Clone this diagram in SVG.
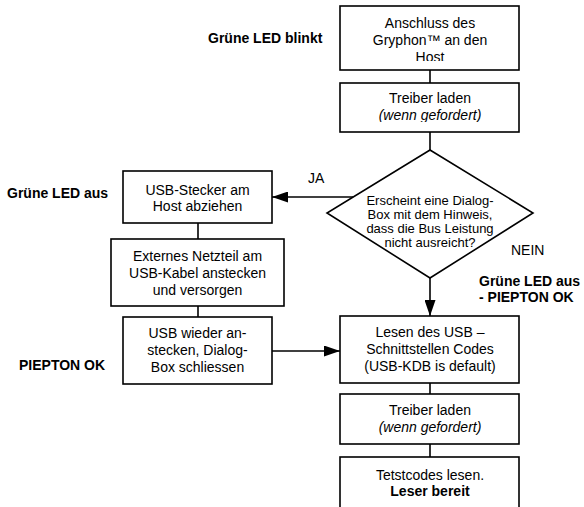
<svg xmlns="http://www.w3.org/2000/svg" width="584" height="507" viewBox="0 0 584 507">
<style>
.box{fill:#fff;stroke:#000;stroke-width:1.6}
.ln{fill:none;stroke:#000;stroke-width:1.6}
text{font-family:"Liberation Sans",Arial,sans-serif;font-size:14px;fill:#000}
.c{text-anchor:middle}
.b{font-weight:bold}
.i{font-style:italic}
.d{font-size:13px}
</style>
<defs>
<marker id="ah" markerUnits="userSpaceOnUse" markerWidth="16" markerHeight="11" refX="16" refY="5.5" orient="auto">
<path d="M0,0 L16,5.5 L0,11 z" fill="#000"/>
</marker>
<clipPath id="clip1"><rect x="340" y="6" width="179" height="55"/></clipPath>
<clipPath id="clip2"><rect x="340" y="83" width="179" height="39"/></clipPath>
</defs>
<g id="connectors">
<line class="ln" x1="430" y1="70" x2="430" y2="83"/>
<line class="ln" x1="430" y1="132" x2="430" y2="150"/>
<line class="ln" x1="430" y1="278" x2="430" y2="316" marker-end="url(#ah)"/>
<line class="ln" x1="353" y1="197" x2="272" y2="197" marker-end="url(#ah)"/>
<line class="ln" x1="198" y1="223" x2="198" y2="239"/>
<line class="ln" x1="198" y1="306" x2="198" y2="317"/>
<line class="ln" x1="272" y1="351" x2="340" y2="351" marker-end="url(#ah)"/>
<line class="ln" x1="430" y1="383" x2="430" y2="394"/>
<line class="ln" x1="430" y1="444" x2="430" y2="457"/>
</g>
<g id="n1">
<rect class="box" x="340" y="6" width="179" height="64"/>
<g clip-path="url(#clip1)">
<text class="c" x="430" y="28">Anschluss des</text>
<text class="c" x="430" y="45">Gryphon™ an den</text>
<text class="c" x="430" y="62">Host</text>
</g>
</g>
<g id="n2">
<rect class="box" x="340" y="83" width="179" height="49"/>
<g clip-path="url(#clip2)">
<text class="c" x="430" y="103">Treiber laden</text>
<text class="c i" x="430" y="120">(wenn gefordert)</text>
</g>
</g>
<g id="n3">
<polygon class="box" points="430,150 533,213 430,278 327,213"/>
<text class="c d" x="430" y="205">Erscheint eine Dialog-</text>
<text class="c d" x="430" y="219">Box mit dem Hinweis,</text>
<text class="c d" x="430" y="233">dass die Bus Leistung</text>
<text class="c d" x="430" y="247">nicht ausreicht?</text>
</g>
<g id="n4">
<rect class="box" x="123" y="171" width="149" height="52"/>
<text class="c" x="197.5" y="195">USB-Stecker am</text>
<text class="c" x="197.5" y="211">Host abziehen</text>
</g>
<g id="n5">
<rect class="box" x="111" y="239" width="173" height="67"/>
<text class="c" x="197.5" y="261">Externes Netzteil am</text>
<text class="c" x="197.5" y="278">USB-Kabel anstecken</text>
<text class="c" x="197.5" y="295">und versorgen</text>
</g>
<g id="n6">
<rect class="box" x="123" y="317" width="149" height="67"/>
<text class="c" x="197.5" y="338">USB wieder an-</text>
<text class="c" x="197.5" y="355">stecken, Dialog-</text>
<text class="c" x="197.5" y="372">Box schliessen</text>
</g>
<g id="n7">
<rect class="box" x="340" y="316" width="179" height="67"/>
<text class="c" x="430" y="337">Lesen des USB –</text>
<text class="c" x="430" y="354">Schnittstellen Codes</text>
<text class="c" x="430" y="371">(USB-KDB is default)</text>
</g>
<g id="n8">
<rect class="box" x="340" y="394" width="179" height="50"/>
<text class="c" x="430" y="415">Treiber laden</text>
<text class="c i" x="430" y="432">(wenn gefordert)</text>
</g>
<g id="n9">
<rect class="box" x="340" y="457" width="179" height="70"/>
<text class="c" x="430" y="480">Tetstcodes lesen.</text>
<text class="c b" x="430" y="496">Leser bereit</text>
</g>
<g id="labels">
<text class="b" x="208" y="43">Grüne LED blinkt</text>
<text class="b" x="7" y="198">Grüne LED aus</text>
<text class="b" x="19" y="370">PIEPTON OK</text>
<text x="308" y="183">JA</text>
<text x="511" y="255">NEIN</text>
<text class="b" x="479" y="286">Grüne LED aus</text>
<text class="b" x="479" y="302">- PIEPTON OK</text>
</g>
</svg>
